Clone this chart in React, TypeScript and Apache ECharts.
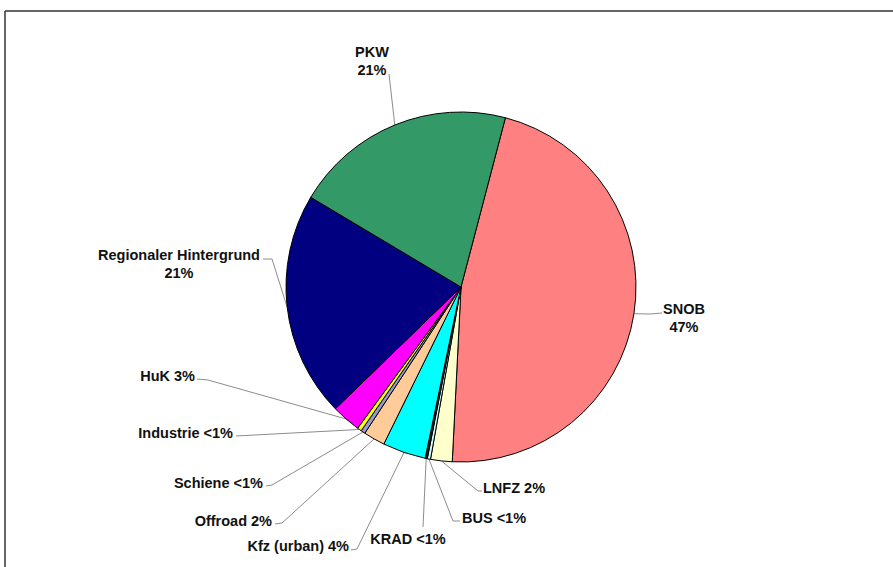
import React, { useEffect, useRef } from "react";
import * as echarts from "echarts";

const categories = ["SNOB", "LNFZ", "BUS", "KRAD", "Kfz (urban)", "Offroad", "Schiene", "Industrie", "HuK", "Regionaler Hintergrund", "PKW"];
const values = [46.9, 2.0, 0.3, 0.2, 4.0, 2.0, 0.4, 0.4, 2.7, 20.9, 20.6];
const shareLabels = ["47%", "2%", "<1%", "<1%", "4%", "2%", "<1%", "<1%", "3%", "21%", "21%"];
const twoLine = [true, false, false, false, false, false, false, false, false, true, true];
const colors = ["#FF8080", "#FFFFCC", "#CCFFFF", "#1a1a1a", "#00FFFF", "#FFCC99", "#9999CC", "#FFFF00", "#FF00FF", "#000080", "#339966"];

// label placement (text anchor + leader line bends), per slice
const labelPlace = [
  { x: 684, y: 318, align: "center", pts: [[650, 314], [662, 313]] },
  { x: 483, y: 488, align: "left", pts: [[478, 491], [482, 491]] },
  { x: 462, y: 518, align: "left", pts: [[453, 521], [460, 521]] },
  { x: 408, y: 539, align: "center", pts: [[423, 527]] },
  { x: 349, y: 546, align: "right", pts: [[357, 549], [351, 550]] },
  { x: 272, y: 521, align: "right", pts: [[282, 523], [275, 524]] },
  { x: 263, y: 483, align: "right", pts: [[272, 485], [266, 486]] },
  { x: 233, y: 433, align: "right", pts: [[236, 436]] },
  { x: 195, y: 376, align: "right", pts: [[208, 380], [197, 379]] },
  { x: 179, y: 264, align: "center", pts: [[272, 259], [263, 259]] },
  { x: 372, y: 61, align: "center", pts: [[389, 74]] },
];

const CX = 461;
const CY = 287;
const R = 175;
const START = 75.3;

export default function App() {
  const ref = useRef<HTMLDivElement>(null);
  useEffect(() => {
    if (!ref.current) return;
    const chart = echarts.init(ref.current, null, { renderer: "svg" });
    const total = values.reduce((a, b) => a + b, 0);
    const edgePoint = (i: number) => {
      let cum = 0;
      for (let k = 0; k < i; k++) cum += values[k];
      const mid = (90 - START) + ((cum + values[i] / 2) / total) * 360;
      const a = (mid * Math.PI) / 180;
      return [CX + R * Math.sin(a), CY - R * Math.cos(a)];
    };
    chart.setOption({
      animation: false,
      backgroundColor: "#ffffff",
      graphic: [
        { type: "line", shape: { x1: 5, y1: 11, x2: 893, y2: 11 }, style: { stroke: "#333", lineWidth: 1.5 } },
        { type: "line", shape: { x1: 5, y1: 11, x2: 5, y2: 567 }, style: { stroke: "#333", lineWidth: 1.5 } },
      ],
      series: [
        {
          type: "pie",
          center: [CX, CY],
          radius: R,
          startAngle: START,
          clockwise: true,
          avoidLabelOverlap: false,
          itemStyle: { borderColor: "#000", borderWidth: 1 },
          emphasis: { disabled: true },
          label: {
            show: true,
            position: "outside",
            color: "#111111",
            fontFamily: "'Liberation Sans', Arial, sans-serif",
            fontWeight: "bold",
            fontSize: 14.5,
            lineHeight: 18,
          },
          labelLine: { show: true, lineStyle: { color: "#8c8c8c", width: 1 } },
          labelLayout: (params: any) => {
            const p = labelPlace[params.dataIndex];
            const edge = edgePoint(params.dataIndex);
            return {
              x: p.x,
              y: p.y,
              align: p.align,
              verticalAlign: "middle",
              labelLinePoints: [edge, ...p.pts],
            };
          },
          data: categories.map((c, i) => ({
            name: c,
            value: values[i],
            itemStyle: { color: colors[i] },
            label: { formatter: twoLine[i] ? `${c}\n${shareLabels[i]}` : `${c} ${shareLabels[i]}` },
          })),
        },
      ],
    });
    return () => chart.dispose();
  }, []);
  return <div ref={ref} style={{ position: "absolute", left: 0, top: 0, width: 893, height: 567 }} />;
}
